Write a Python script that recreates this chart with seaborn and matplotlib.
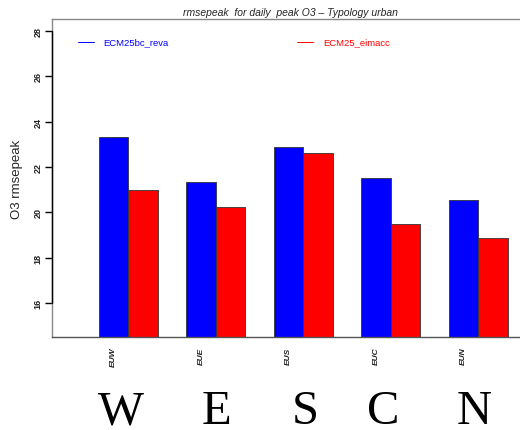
import matplotlib
matplotlib.use("Agg")
import matplotlib.pyplot as plt
import matplotlib.transforms as mtransforms
import seaborn as sns
import pandas as pd

# Data: rmse of daily peak O3 per region, two model runs
regions = ["EUW", "EUE", "EUS", "EUC", "EUN"]
region_letters = ["W", "E", "S", "C", "N"]
series_names = ["ECM25bc_reva", "ECM25_eimacc"]
ecm25bc_reva = [23.32, 21.35, 22.88, 21.51, 20.54]
ecm25_eimacc = [21.00, 20.21, 22.62, 19.47, 18.85]
y_ticks = [16, 18, 20, 22, 24, 26, 28]
colors = ["#0000FF", "#FF0000"]

# horizontal nudges of the big region letters (in category units)
letter_shift = [-0.09, 0.01, 0.025, -0.086, -0.05]

df = pd.DataFrame({
    "region": regions * 2,
    "model": [series_names[0]] * len(regions) + [series_names[1]] * len(regions),
    "rmse": ecm25bc_reva + ecm25_eimacc,
})

sns.set_style("white")
plt.rcParams["font.family"] = ["Liberation Sans", "DejaVu Sans"]

W, H = 520, 431
fig = plt.figure(figsize=(W / 100, H / 100), dpi=100)
ax = fig.add_axes([52 / W, 93 / H, 478 / W, 318 / H])

ymin = 14.5
sns.barplot(data=df, x="region", y="rmse", hue="model", order=regions,
            hue_order=series_names, palette=colors, width=0.67,
            saturation=1, edgecolor="#333333", linewidth=0.6,
            legend=False, ax=ax)

# bars start from the bottom of the plotting range
for patch in ax.patches:
    h = patch.get_height()
    patch.set_y(ymin)
    patch.set_height(h - ymin)

ax.set_xlim(-0.872, 4.591)
ax.set_ylim(ymin, 28.52)

for s in ax.spines.values():
    s.set_color("#888888")
    s.set_linewidth(1.0)
ax.spines["bottom"].set_color("#555555")

# y axis in the R base-graphics style: black line spanning the tick range
ytrans = mtransforms.blended_transform_factory(ax.transAxes, ax.transData)
ax.plot([0, 0], [y_ticks[0], y_ticks[-1]], color="black", lw=1.0,
        transform=ytrans, clip_on=False, zorder=5)
ax.set_yticks(y_ticks)
ax.set_yticklabels([str(t) for t in y_ticks], rotation=90, va="center",
                   fontsize=6.5, fontweight="bold", color="#222222")
ax.tick_params(axis="y", length=5, width=1, color="black", pad=2, left=True)
ax.set_xticks([])
ax.set_xlabel("")
ax.set_ylabel("O3 rmsepeak", fontsize=9.5, labelpad=7.5)

# region codes under the first bar of each group, big letters below
off = 0.67 / 4
xtrans = mtransforms.blended_transform_factory(ax.transData, ax.transAxes)
for i, (code, letter, dx) in enumerate(zip(regions, region_letters, letter_shift)):
    ax.text(i - off, -0.03, code, transform=xtrans,
            rotation=90, ha="center", va="top", fontsize=6,
            fontstyle="italic", fontweight="bold", color="#222222")
    ax.text(i + dx, -0.272, letter, transform=xtrans,
            ha="center", va="baseline", fontsize=35, family="Liberation Serif",
            color="black")

ax.set_title("rmsepeak  for daily  peak O3 \u2013 Typology urban",
             fontsize=7.5, fontstyle="italic", pad=3, x=(290 - 52) / 478)

# legend drawn as short lines with coloured labels
ly = 28.52 - (43 - 20) / 22.85
for x0, x1, xt, name, c in [(78, 94, 103, series_names[0], colors[0]),
                            (297, 313, 323, series_names[1], colors[1])]:
    fx0 = (x0 - 52) / 478
    fx1 = (x1 - 52) / 478
    fxt = (xt - 52) / 478
    ax.plot([fx0, fx1], [ly, ly], color=c, lw=0.7, transform=ytrans)
    ax.text(fxt, ly, name, color=c, fontsize=6.8, va="center", ha="left",
            transform=ytrans)

fig.savefig("out.png", dpi=100)
